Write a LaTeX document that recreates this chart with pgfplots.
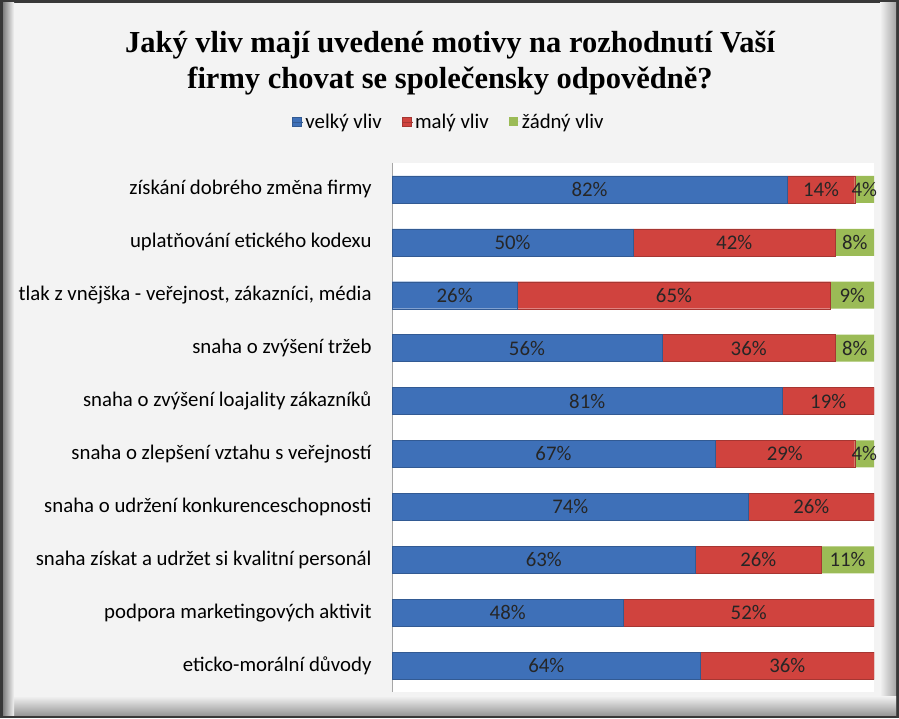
\documentclass[border=0pt]{standalone}
\usepackage{fontspec}
\setmainfont{Carlito}
\newfontfamily\titlefont{Liberation Serif}
\usepackage{pgfplots}
\pgfplotsset{compat=1.18}
\definecolor{panel}{HTML}{F3F3F3}
\definecolor{blueM}{HTML}{3E70B8}
\definecolor{redM}{HTML}{D0433E}
\definecolor{greenM}{HTML}{9BBB56}
\begin{document}
\begin{tikzpicture}[x=1pt,y=1pt]
% frame
\fill[black!78] (0,0) rectangle (899,718);
\fill[panel] (3,3) rectangle (896,715);
\shade[left color=panel, right color=black!35] (880,3) rectangle (896,715);
\shade[top color=panel, bottom color=black!40] (3,3) rectangle (896,22);
\shade[left color=black!50, right color=panel] (3,3) rectangle (14,715);
\fill[panel] (14,22) rectangle (880,712);
% title
\node[anchor=base, font=\titlefont\fontsize{30.5}{36}\selectfont\bfseries] at (450,665) {Jaký vliv mají uvedené motivy na rozhodnutí Vaší};
\node[anchor=base, font=\titlefont\fontsize{30.5}{36}\selectfont\bfseries] at (450,629) {firmy chovat se společensky odpovědně?};
\begin{axis}[
  at={(392pt,26pt)}, anchor=south west, scale only axis,
  width=482pt, height=529pt,
  xbar stacked, bar width=27pt,
  xmin=0, xmax=100, ymin=-0.5, ymax=9.5, y dir=reverse,
  ytick={0,...,9},
  yticklabels={získání dobrého změna firmy, uplatňování etického kodexu, {tlak z vnějška - veřejnost, zákazníci, média}, snaha o zvýšení tržeb, snaha o zvýšení loajality zákazníků, snaha o zlepšení vztahu s veřejností, snaha o udržení konkurenceschopnosti, snaha získat a udržet si kvalitní personál, podpora marketingových aktivit, eticko-morální důvody},
  axis x line=none, axis y line*=left,
  y axis line style={draw=gray!70, -},
  ytick style={draw=none},
  yticklabel style={font=\fontsize{20.8}{24}\selectfont, text=black, xshift=-17pt},
  axis background/.style={fill=white},
  point meta=explicit symbolic,
  nodes near coords,
  every node near coord/.append style={font=\fontsize{20.8}{24}\selectfont, text=black!85},
  legend columns=3,
  legend style={at={(0.118,1.0775)}, anchor=center, draw=none, fill=none, font=\fontsize{20.8}{24}\selectfont, /tikz/every even column/.append style={column sep=18pt}},
  legend image code/.code={\path[#1] (0pt,-4.5pt) rectangle (9pt,4.5pt); \path (0pt,0pt) -- (11pt,0pt);},
]
\addplot[draw=blueM!80!black, line width=0.4pt, fill=blueM] coordinates {
(82,0) [82\%] (50,1) [50\%] (26,2) [26\%] (56,3) [56\%] (81,4) [81\%] (67,5) [67\%] (74,6) [74\%] (63,7) [63\%] (48,8) [48\%] (64,9) [64\%]};
\addplot[draw=redM!80!black, line width=0.4pt, fill=redM] coordinates {
(14,0) [14\%] (42,1) [42\%] (65,2) [65\%] (36,3) [36\%] (19,4) [19\%] (29,5) [29\%] (26,6) [26\%] (26,7) [26\%] (52,8) [52\%] (36,9) [36\%]};
\addplot[draw=none, fill=greenM] coordinates {
(4,0) [4\%] (8,1) [8\%] (9,2) [9\%] (8,3) [8\%] (0,4) [] (4,5) [4\%] (0,6) [] (11,7) [11\%] (0,8) [] (0,9) []};
\legend{velký vliv, malý vliv, žádný vliv}
\end{axis}
\end{tikzpicture}
\end{document}
